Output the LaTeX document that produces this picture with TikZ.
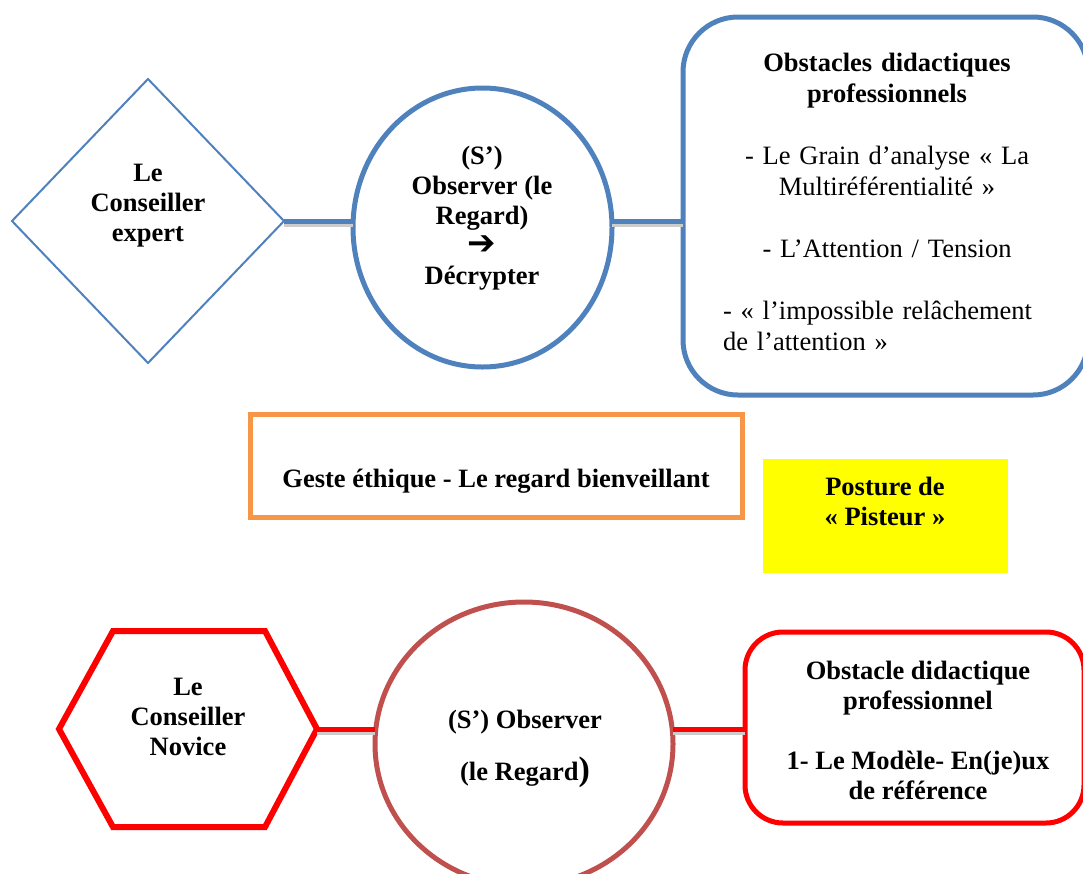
\documentclass[tikz,border=0pt]{standalone}
\usepackage{fontspec}
\setmainfont{Liberation Serif}
\newfontfamily\arrowfont{DejaVu Sans}
\usetikzlibrary{shapes.geometric}
\definecolor{offblue}{HTML}{4F81BD}
\definecolor{offbrown}{HTML}{C0504D}
\definecolor{offorange}{HTML}{F79646}
\definecolor{offred}{HTML}{FF0000}
\definecolor{offyellow}{HTML}{FFFF00}

\begin{document}
\begin{tikzpicture}[x=1pt, y=-1pt,
    every node/.style={font=\fontsize{26.5}{30}\selectfont},
    txt/.style={align=center, font=\fontsize{26.5}{30}\selectfont\bfseries},
    shapebox/.style={inner sep=0pt, outer sep=0pt},
    shadowline/.style={draw=black!20, line width=5pt, transform canvas={yshift=-3pt}},
    connline/.style={line width=5pt}]
    \useasboundingbox (0,0) rectangle (1083,873);
    % expert row
    \node[shapebox, diamond, draw=offblue, line width=2pt, minimum width=272pt, minimum height=284pt] (expert) at (148,221) {};
    \node[txt] (expert-txt) at (148,206) {Le\\Conseiller\\expert};
    \node[shapebox, ellipse, draw=offblue, line width=5pt, minimum width=259pt, minimum height=279pt] (regard1) at (482.5,227.5) {};
    \node[txt] (regard1-txt) at (482,218) {(S’)\\Observer (le\\Regard)\\{\arrowfont\bfseries\fontsize{34}{30}\selectfont ➔}\\Décrypter};
    \node[shapebox, rounded corners=55pt, draw=offblue, line width=5pt, minimum width=405pt, minimum height=378pt] (obst1) at (885.5,206) {};
    \node[align=center, text width=328pt, font=\fontsize{26.5}{31}\selectfont] (obst1-txt) at (887,202) {\textbf{Obstacles didactiques}\\\textbf{professionnels}\\[31pt]- Le Grain d’analyse « La\\Multiréférentialité »\\[31pt]- L’Attention / Tension\\[31pt]\makebox[328pt][l]{- « l’impossible relâchement}\\\makebox[328pt][l]{de l’attention »}};
    \draw[shadowline] (expert.east) -- (expert.east -| regard1.west);
    \draw[shadowline] (regard1.east |- expert.east) -- (obst1.west |- expert.east);
    \draw[connline, offblue] (expert.east) -- (expert.east -| regard1.west);
    \draw[connline, offblue] (regard1.east |- expert.east) -- (obst1.west |- expert.east);
    % middle boxes
    \node[shapebox, draw=offorange, line width=5pt, minimum width=492pt, minimum height=103pt] (geste) at (496,465.5) {};
    \node[txt] (geste-txt) at (496,481) {Geste éthique - Le regard bienveillant};
    \node[shapebox, fill=offyellow, minimum width=245pt, minimum height=114pt] (pisteur) at (885.5,516) {};
    \node[txt] (pisteur-txt) at (885,501) {Posture de\\« Pisteur »};
    % novice row
    \node[shapebox, minimum width=258pt, minimum height=196pt] (novice) at (188,729) {};
    \draw[offred, line width=6pt] (novice.west) -- ([xshift=54pt]novice.north west) -- ([xshift=-52pt]novice.north east) -- (novice.east) -- ([xshift=-52pt]novice.south east) -- ([xshift=54pt]novice.south west) -- cycle;
    \node[txt] (novice-txt) at (188,717) {Le\\Conseiller\\Novice};
    \node[shapebox, ellipse, draw=offbrown, line width=5pt, minimum width=298pt, minimum height=284pt] (regard2) at (524,744) {};
    \node[txt] (regard2-txt) at (525,749) {(S’) Observer\\[22pt](le Regard{\fontsize{34}{34}\selectfont)}};
    \node[shapebox, rounded corners=38pt, draw=offred, line width=5pt, minimum width=339pt, minimum height=191pt] (obst2) at (914.5,727.5) {};
    \node[txt] (obst2-txt) at (918,730) {Obstacle didactique\\professionnel\\[30pt]1- Le Modèle- En(je)ux\\de référence};
    \draw[shadowline] (novice.east) -- (novice.east -| regard2.west);
    \draw[shadowline] (regard2.east |- novice.east) -- (obst2.west |- novice.east);
    \draw[connline, offred] (novice.east) -- (novice.east -| regard2.west);
    \draw[connline, offred] (regard2.east |- novice.east) -- (obst2.west |- novice.east);
\end{tikzpicture}
\end{document}
